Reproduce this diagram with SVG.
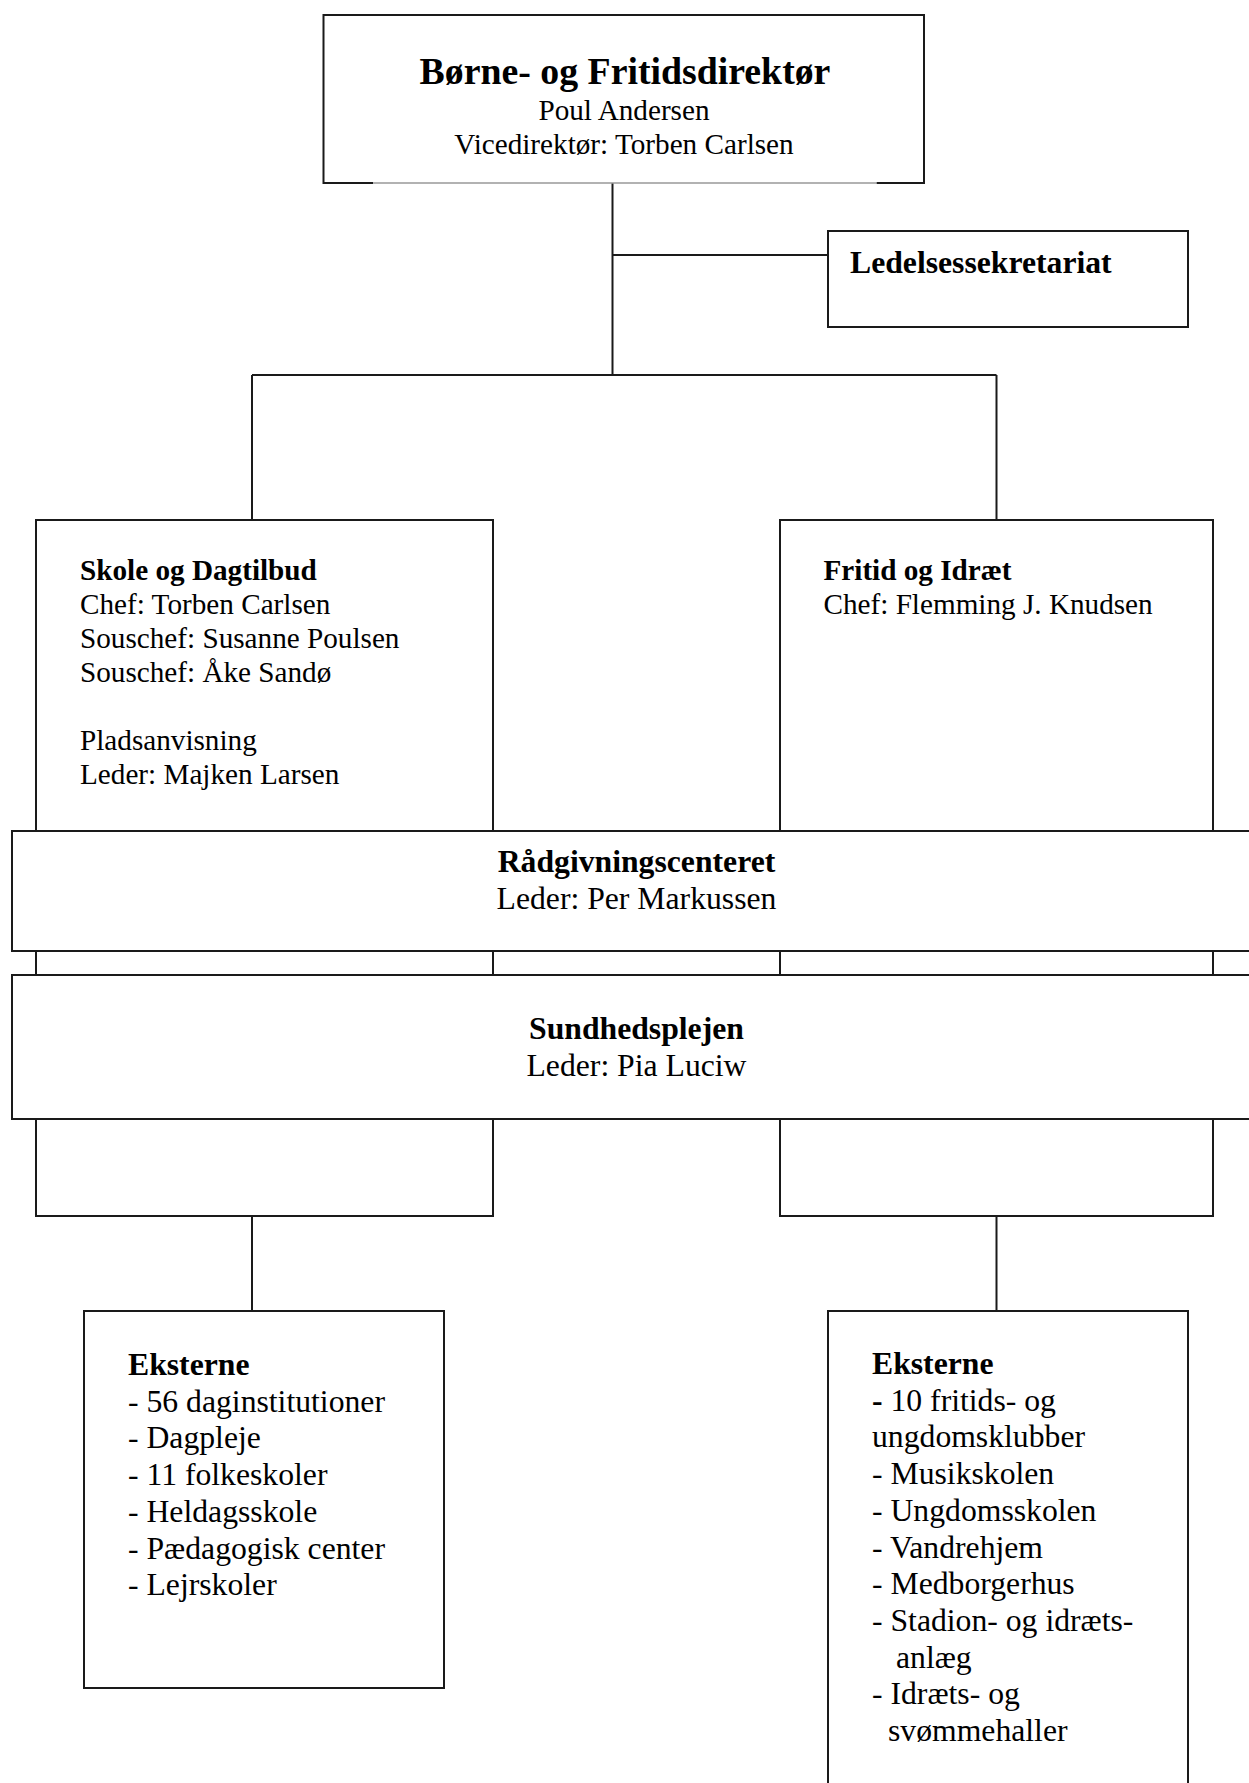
<svg xmlns="http://www.w3.org/2000/svg" width="1249" height="1783" viewBox="0 0 1249 1783">
<style>
  .box { fill: #fff; stroke: #1a1a1a; stroke-width: 2; }
  .ln { fill: none; stroke: #1a1a1a; stroke-width: 2; }
  .t { font-family: "Liberation Serif", "Times New Roman", serif; fill: #000; }
  .b { font-weight: bold; }
  .s14 { font-size: 29.2px; }
  .s15 { font-size: 31.7px; }
  .s18 { font-size: 37.8px; }
  .mid { text-anchor: middle; }
</style>
<rect width="1249" height="1783" fill="#fff"/>
<g id="connectors">
  <path class="ln" d="M612.5 183 V375 M612.5 255 H828 M252 375 H996.5 M252 375 V520 M996.5 375 V520 M252 1216 V1311 M996.5 1216 V1311"/>
</g>
<g id="top">
  <path class="ln" d="M373 183 H323.5 V15 H924 V183 H876.5"/>
  <path d="M373 183 H876.5" fill="none" stroke="#999" stroke-width="1.5"/>
  <text class="t b s18 mid" x="625" y="84">Børne- og Fritidsdirektør</text>
  <text class="t s14 mid" x="624" y="120">Poul Andersen</text>
  <text class="t s14 mid" x="624" y="154">Vicedirektør: Torben Carlsen</text>
</g>
<g id="ledelsessekretariat">
  <rect class="box" x="828" y="231" width="360" height="96"/>
  <text class="t b s15" x="850" y="273">Ledelsessekretariat</text>
</g>
<g id="skole">
  <rect class="box" x="36" y="520" width="457" height="696"/>
  <text class="t b s14" x="80" y="580">Skole og Dagtilbud</text>
  <text class="t s14" x="80" y="614">Chef: Torben Carlsen</text>
  <text class="t s14" x="80" y="648">Souschef: Susanne Poulsen</text>
  <text class="t s14" x="80" y="682">Souschef: Åke Sandø</text>
  <text class="t s14" x="80" y="750">Pladsanvisning</text>
  <text class="t s14" x="80" y="784">Leder: Majken Larsen</text>
</g>
<g id="fritid">
  <rect class="box" x="780" y="520" width="433" height="696"/>
  <text class="t b s14" x="823.5" y="580">Fritid og Idræt</text>
  <text class="t s14" x="823.5" y="614">Chef: Flemming J. Knudsen</text>
</g>
<g id="raadgivning">
  <rect class="box" x="12" y="831" width="1250" height="120"/>
  <text class="t b s15 mid" x="636.5" y="872">Rådgivningscenteret</text>
  <text class="t s15 mid" x="636.5" y="909">Leder: Per Markussen</text>
</g>
<g id="sundhedsplejen">
  <rect class="box" x="12" y="975" width="1250" height="144"/>
  <text class="t b s15 mid" x="636.5" y="1039">Sundhedsplejen</text>
  <text class="t s15 mid" x="636.5" y="1076">Leder: Pia Luciw</text>
</g>
<g id="eksterne-skole">
  <rect class="box" x="84" y="1311" width="360" height="377"/>
  <text class="t b s15" x="128" y="1375">Eksterne</text>
  <text class="t s15" x="128" y="1411.7">- 56 daginstitutioner</text>
  <text class="t s15" x="128" y="1448.4">- Dagpleje</text>
  <text class="t s15" x="128" y="1485.1">- 11 folkeskoler</text>
  <text class="t s15" x="128" y="1521.8">- Heldagsskole</text>
  <text class="t s15" x="128" y="1558.5">- Pædagogisk center</text>
  <text class="t s15" x="128" y="1595.2">- Lejrskoler</text>
</g>
<g id="eksterne-fritid">
  <rect class="box" x="828" y="1311" width="360" height="490"/>
  <text class="t b s15" x="872" y="1374">Eksterne</text>
  <text class="t s15" x="872" y="1410.7"><tspan class="b">-</tspan> 10 fritids- og</text>
  <text class="t s15" x="872" y="1447.4">ungdomsklubber</text>
  <text class="t s15" x="872" y="1484.1">- Musikskolen</text>
  <text class="t s15" x="872" y="1520.8">- Ungdomsskolen</text>
  <text class="t s15" x="872" y="1557.5">- Vandrehjem</text>
  <text class="t s15" x="872" y="1594.2">- Medborgerhus</text>
  <text class="t s15" x="872" y="1630.9">- Stadion- og idræts-</text>
  <text class="t s15" x="896" y="1667.6">anlæg</text>
  <text class="t s15" x="872" y="1704.3">- Idræts- og</text>
  <text class="t s15" x="888" y="1741">svømmehaller</text>
</g>
</svg>
